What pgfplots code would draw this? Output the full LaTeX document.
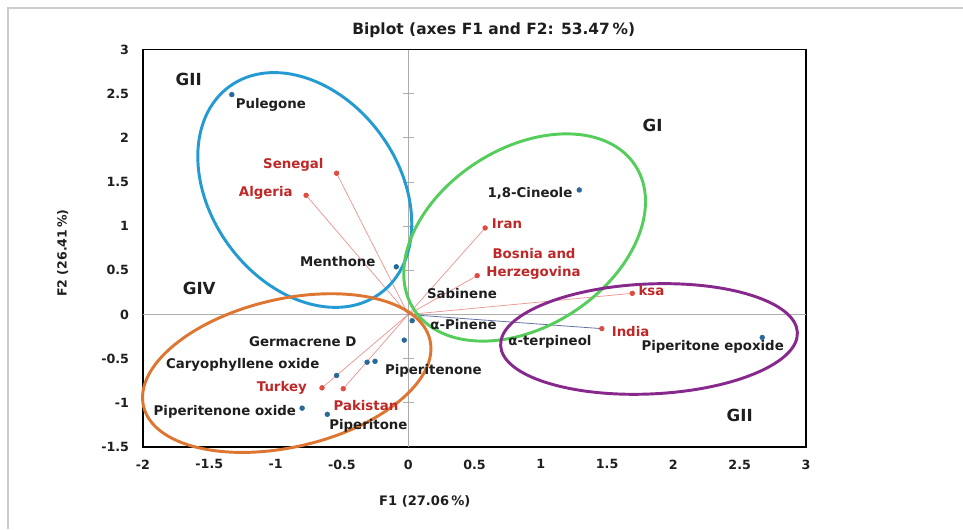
\documentclass[border=0pt]{standalone}
\usepackage{pgfplots}
\pgfplotsset{compat=1.18}
\usepackage{fontspec}
\setmainfont{DejaVu Sans}
\definecolor{ptblue}{RGB}{40,105,155}
\definecolor{ctyred}{RGB}{225,75,65}
\definecolor{ctytext}{RGB}{190,40,40}
\definecolor{linered}{RGB}{235,150,145}
\definecolor{lineblue}{RGB}{100,115,165}
\definecolor{ellblue}{RGB}{35,155,210}
\definecolor{ellgreen}{RGB}{85,205,90}
\definecolor{ellorange}{RGB}{222,118,50}
\definecolor{ellpurple}{RGB}{135,40,140}
\definecolor{txt}{RGB}{30,30,30}
\newcommand{\lab}{\fontsize{10}{12}\selectfont\bfseries}
\newcommand{\grp}{\fontsize{12.5}{14}\selectfont\bfseries}
\begin{document}
\begin{tikzpicture}
\useasboundingbox (0,0) rectangle (722.25pt,396.75pt);
\draw[gray!40, line width=1.5pt] (6pt,0) -- (6pt,390.75pt) -- (722.25pt,390.75pt);
\begin{axis}[
  at={(107.25pt,61.5pt)}, anchor=south west,
  scale only axis, width=497.25pt, height=298.1pt,
  xmin=-2, xmax=3, ymin=-1.5, ymax=3,
  clip=false,
  axis line style={line width=1.1pt, black},
  major tick length=0pt,
  xtick={-2,-1.5,-1,-0.5,0,0.5,1,1.5,2,2.5,3},
  xticklabels={-2,-1.5,-1,-0.5,0,0.5,1,1.5,2,2.5,3},
  ytick={-1.5,-1,-0.5,0,0.5,1,1.5,2,2.5,3},
  yticklabels={-1.5,-1,-0.5,0,0.5,1,1.5,2,2.5,3},
  tick label style={font=\fontsize{9.5}{11}\selectfont\bfseries, text=txt},
  xticklabel style={yshift=-6pt},
  yticklabel style={xshift=-7pt},
]
% zero lines
\draw[gray!65, line width=0.6pt] (axis cs:0,-1.5) -- (axis cs:0,3);
\draw[gray!65, line width=0.6pt] (axis cs:-2,0) -- (axis cs:3,0);
\pgfplotsinvokeforeach{-1,-0.5,0.5,1,1.5,2,2.5}{
  \draw[gray!65, line width=0.6pt] ([xshift=-4pt]axis cs:0,#1) -- ([xshift=4pt]axis cs:0,#1);
}
% loading lines
\addplot[linered, line width=0.55pt] coordinates {(0,0) (-0.54,1.60)};
\addplot[linered, line width=0.55pt] coordinates {(0,0) (-0.77,1.35)};
\addplot[linered, line width=0.55pt] coordinates {(0,0) (0.58,0.98)};
\addplot[linered, line width=0.55pt] coordinates {(0,0) (0.52,0.44)};
\addplot[linered, line width=0.55pt] coordinates {(0,0) (1.69,0.24)};
\addplot[lineblue, line width=0.6pt] coordinates {(0,0) (1.46,-0.16)};
\addplot[linered, line width=0.55pt] coordinates {(0,0) (-0.65,-0.83)};
\addplot[linered, line width=0.55pt] coordinates {(0,0) (-0.49,-0.84)};
% compounds
\addplot[only marks, mark=*, mark size=1.8pt, ptblue] coordinates {
 (-1.33,2.49) (-0.09,0.54) (1.29,1.41) (2.67,-0.26) (0.03,-0.07) (-0.03,-0.29)
 (-0.31,-0.54) (-0.25,-0.53) (-0.54,-0.69) (-0.80,-1.06) (-0.61,-1.13)};
% countries
\addplot[only marks, mark=*, mark size=1.8pt, ctyred] coordinates {
 (-0.54,1.60) (-0.77,1.35) (0.58,0.98) (0.52,0.44) (1.69,0.24) (1.46,-0.16)
 (-0.65,-0.83) (-0.49,-0.84)};
% ellipses
\draw[ellblue, line width=2.2pt] (axis cs:-0.78,1.41) ellipse [x radius=96pt, y radius=70.5pt, rotate=-54];
\draw[ellgreen, line width=2.2pt] (axis cs:0.878,0.872) ellipse [x radius=99pt, y radius=66.75pt, rotate=33];
\draw[ellorange, line width=2.2pt] (axis cs:-0.916,-0.663) ellipse [x radius=110.25pt, y radius=55.5pt, rotate=13];
\draw[ellpurple, line width=2.2pt] (axis cs:1.816,-0.277) ellipse [x radius=111.4pt, y radius=41.25pt, rotate=2.5];
% compound labels
\node[text=txt, font=\lab] at (axis cs:-1.036,2.373) {Pulegone};
\node[text=txt, font=\lab] at (axis cs:-0.531,0.595) {Menthone};
\node[text=txt, font=\lab] at (axis cs:0.918,1.376) {1,8-Cineole};
\node[text=txt, font=\lab] at (axis cs:0.405,0.232) {Sabinene};
\node[text=txt, font=\lab] at (axis cs:0.417,-0.108) {α-Pinene};
\node[text=txt, font=\lab] at (axis cs:1.069,-0.311) {α-terpineol};
\node[text=txt, font=\lab] at (axis cs:2.296,-0.368) {Piperitone epoxide};
\node[text=txt, font=\lab] at (axis cs:-0.795,-0.311) {Germacrene D};
\node[text=txt, font=\lab] at (axis cs:-1.248,-0.572) {Caryophyllene oxide};
\node[text=txt, font=\lab] at (axis cs:0.190,-0.640) {Piperitenone};
\node[text=txt, font=\lab] at (axis cs:-1.383,-1.104) {Piperitenone oxide};
\node[text=txt, font=\lab] at (axis cs:-0.300,-1.263) {Piperitone};
% country labels
\node[text=ctytext, font=\lab] at (axis cs:-0.866,1.693) {Senegal};
\node[text=ctytext, font=\lab] at (axis cs:-1.074,1.376) {Algeria};
\node[text=ctytext, font=\lab] at (axis cs:0.745,1.025) {Iran};
\node[text=ctytext, font=\lab] at (axis cs:0.949,0.685) {Bosnia and};
\node[text=ctytext, font=\lab] at (axis cs:0.945,0.470) {Herzegovina};
\node[text=ctytext, font=\lab] at (axis cs:1.835,0.277) {ksa};
\node[text=ctytext, font=\lab] at (axis cs:1.677,-0.198) {India};
\node[text=ctytext, font=\lab] at (axis cs:-0.953,-0.832) {Turkey};
\node[text=ctytext, font=\lab] at (axis cs:-0.319,-1.025) {Pakistan};
% group labels
\node[text=txt, font=\grp] at (axis cs:-1.655,2.667) {GII};
\node[text=txt, font=\grp] at (axis cs:-1.576,0.300) {GIV};
\node[text=txt, font=\grp] at (axis cs:1.843,2.146) {GI};
\node[text=txt, font=\grp] at (axis cs:2.500,-1.138) {GII};
% title and axis labels
\node[text=txt, font=\fontsize{11.6}{13}\selectfont\bfseries] at (rel axis cs:0.529,1.049) {Biplot (axes F1 and F2: 53.47\,\%)};
\node[text=txt, font=\fontsize{9.8}{11}\selectfont\bfseries] at (rel axis cs:0.425,-0.138) {F1 (27.06\,\%)};
\node[text=txt, font=\fontsize{9.4}{11}\selectfont\bfseries, rotate=90] at (rel axis cs:-0.121,0.488) {F2 (26.41\,\%)};
\end{axis}
\end{tikzpicture}
\end{document}
